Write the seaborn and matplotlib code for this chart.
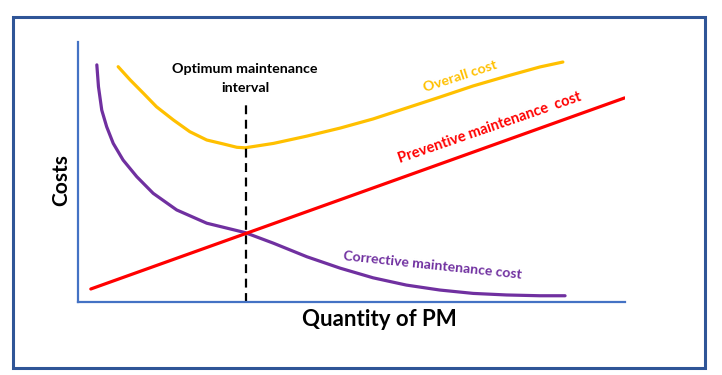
import seaborn as sns
import matplotlib.pyplot as plt
from matplotlib.patches import Rectangle

# values (arbitrary units, 0-100 on both axes)
corr_x = [3.5, 3.8, 4.4, 5.3, 6.5, 8.3, 10.8, 13.8, 18.1, 23.6, 30.6, 35.8, 41.9, 48.0, 54.0, 60.1, 66.2, 72.3, 78.4, 84.5, 89.1]
corr_y = [91.2, 82.8, 73.8, 67.4, 61.0, 54.6, 48.2, 41.8, 35.4, 30.3, 26.7, 22.6, 17.4, 13.0, 9.3, 6.5, 4.6, 3.3, 2.7, 2.4, 2.4]

over_x = [7.4, 9.6, 12.0, 14.4, 17.5, 20.5, 23.6, 26.6, 29.1, 30.6, 35.8, 41.9, 48.0, 54.0, 60.1, 66.2, 72.3, 78.5, 84.5, 88.7]
over_y = [90.5, 85.4, 80.3, 75.1, 70.0, 65.5, 62.3, 60.8, 59.5, 59.3, 61.0, 63.8, 66.9, 70.4, 74.6, 78.8, 83.1, 86.9, 90.4, 92.3]

prev_x = [2.4, 100]
prev_y = [5.0, 78.5]

optimum_x = 30.8
optimum_top = 75.8

purple = "#7030A0"
red = "#FF0000"
gold = "#FFC000"

sns.set_theme(style="white")
plt.rcParams['font.family'] = ['Lato', 'DejaVu Sans']
plt.rcParams['lines.solid_joinstyle'] = 'round'
plt.rcParams['lines.solid_capstyle'] = 'round'

fig = plt.figure(figsize=(7.22, 3.75), dpi=100)
ax = fig.add_axes([0.1076, 0.1947, 0.7576, 0.6933])

sns.lineplot(x=corr_x, y=corr_y, color=purple, lw=2.3, sort=False, ax=ax)
sns.lineplot(x=over_x, y=over_y, color=gold, lw=2.3, sort=False, ax=ax)
sns.lineplot(x=prev_x, y=prev_y, color=red, lw=2.3, sort=False, ax=ax)
ax.plot([optimum_x, optimum_x], [0, optimum_top], color="black", lw=1.6, dashes=(4, 2.5))

ax.set_xlim(0, 100)
ax.set_ylim(0, 100)
ax.set_xticks([])
ax.set_yticks([])
for s in ["top", "right"]:
    ax.spines[s].set_visible(False)
for s in ["left", "bottom"]:
    ax.spines[s].set_color("#4472C4")
    ax.spines[s].set_linewidth(1.6)

ax.text(30.6, 89.6, "Optimum maintenance", ha="center", va="center", fontsize=10.3, fontweight="bold", color="black")
ax.text(30.6, 82.3, "interval", ha="center", va="center", fontsize=10.3, fontweight="bold", color="black")
ax.text(69.9, 86.9, "Overall cost", ha="center", va="center", fontsize=10.3, fontweight="bold", color=gold, rotation=18)
ax.text(75.4, 66.9, "Preventive maintenance  cost", ha="center", va="center", fontsize=10.5, fontweight="bold", color=red, rotation=19)
ax.text(64.9, 14.2, "Corrective maintenance cost", ha="center", va="center", fontsize=10.1, fontweight="bold", color=purple, rotation=-6)

fig.text(0.0845, 0.52, "Costs", rotation=90, ha="center", va="center", fontsize=15, fontweight="bold", color="black")
fig.text(0.525, 0.147, "Quantity of PM", ha="center", va="center", fontsize=16, fontweight="bold", color="black")

fig.patches.append(Rectangle((0.018, 0.0195), 0.958, 0.936, transform=fig.transFigure,
                             fill=False, edgecolor="#2F5597", lw=2.2))

fig.savefig("out.png", dpi=100)
